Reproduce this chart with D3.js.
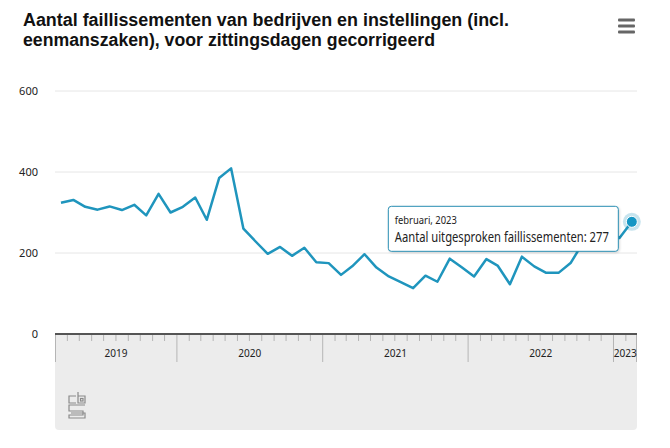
<!DOCTYPE html>
<html>
<head>
<meta charset="utf-8">
<script src="https://cdn.jsdelivr.net/npm/d3@7/dist/d3.min.js"></script>
<style>
  html, body { margin: 0; padding: 0; background: #fff; }
  svg { display: block; font-family: "Noto Sans", "Open Sans", sans-serif; }
</style>
</head>
<body>
<svg id="chart" width="670" height="448"></svg>
<script>
// ---- Data ----
const titleLines = ["Aantal faillissementen van bedrijven en instellingen (incl.", "eenmanszaken), voor zittingsdagen gecorrigeerd"];
const startYear = 2019, startMonth = 2; // March 2019 (0-based month)
const values = [
  324, 331, 314, 307, 315, 306, 319, 293, 346, 300,            // 2019 Mar-Dec
  314, 337, 282, 385, 409, 260, 229, 198, 215, 193, 213, 177,  // 2020
  175, 146, 167, 197, 164, 142, 128, 113, 144, 129, 186, 165,  // 2021
  142, 185, 169, 123, 191, 167, 151, 151, 176, 225, 245, 252,  // 2022
  237, 277                                                     // 2023 Jan-Feb
];
const yTicks = [0, 200, 400, 600];
const monthNames = ["januari","februari","maart","april","mei","juni","juli","augustus","september","oktober","november","december"];
const tooltipLabel = "Aantal uitgesproken faillissementen";

// ---- Layout ----
const svg = d3.select("#chart");
const mLeft = 55, mRight = 637, mTop = 91, mBottom = 334;
const data = values.map((v, i) => {
  const d = new Date(startYear, startMonth + i, 1);
  return { date: d, mid: new Date(d.getFullYear(), d.getMonth(), 16), value: v };
});
const domStart = new Date(startYear, startMonth, 1);
const domEnd = new Date(startYear, startMonth + values.length, 1);
const x = d3.scaleTime().domain([domStart, domEnd]).range([mLeft, mRight]);
const y = d3.scaleLinear().domain([0, 600]).range([mBottom, mTop]);

// Title (fitted to the reference's narrow type)
const titleWidths = [486, 412];
titleLines.forEach((t, i) => svg.append("text")
  .attr("x", 23).attr("y", 26 + i * 20)
  .attr("font-family", "'Liberation Sans', Arial, sans-serif")
  .attr("font-size", 17.5).attr("font-weight", 700).attr("fill", "#111")
  .attr("textLength", titleWidths[i]).attr("lengthAdjust", "spacingAndGlyphs")
  .text(t));

// Menu icon
[20, 26, 32].forEach(yy => svg.append("rect").attr("x", 618).attr("y", yy - 1.5)
  .attr("width", 17).attr("height", 3).attr("rx", 1).attr("fill", "#666"));

// Gridlines and y labels
const yAxis = svg.append("g");
yTicks.forEach(t => {
  if (t > 0) yAxis.append("line").attr("x1", mLeft).attr("x2", mRight)
    .attr("y1", y(t)).attr("y2", y(t)).attr("stroke", "#e6e6e6").attr("stroke-width", 1);
  yAxis.append("text").attr("x", 38).attr("y", y(t)).attr("dy", "0.35em")
    .attr("text-anchor", "end").attr("font-size", 11).attr("fill", "#222").text(t);
});

// X axis band
const bandTop = mBottom + 1, bandBottom = 430;
svg.append("path")
  .attr("d", `M${mLeft},${bandTop} H${mRight} V${bandBottom - 4} Q${mRight},${bandBottom} ${mRight - 4},${bandBottom} H${mLeft + 4} Q${mLeft},${bandBottom} ${mLeft},${bandBottom - 4} Z`)
  .attr("fill", "#ececec");

// Month ticks
const months = d3.timeMonth.range(domStart, domEnd);
svg.append("g").selectAll("line").data(months.slice(1)).join("line")
  .attr("x1", d => x(d)).attr("x2", d => x(d))
  .attr("y1", bandTop).attr("y2", d => d.getMonth() === 0 ? 362 : 341)
  .attr("stroke", "#b5b5b5").attr("stroke-width", 1);
svg.append("line").attr("x1", mLeft + 0.5).attr("x2", mLeft + 0.5).attr("y1", bandTop).attr("y2", 362)
  .attr("stroke", "#b5b5b5");
svg.append("line").attr("x1", mRight - 0.5).attr("x2", mRight - 0.5).attr("y1", bandTop).attr("y2", 362)
  .attr("stroke", "#b5b5b5");

// Year labels, centred in each year's visible span
const years = d3.range(startYear, domEnd.getFullYear() + 1);
years.forEach(yr => {
  const a = Math.max(+domStart, +new Date(yr, 0, 1));
  const b = Math.min(+domEnd, +new Date(yr + 1, 0, 1));
  if (b <= a) return;
  svg.append("text").attr("x", (x(new Date(a)) + x(new Date(b))) / 2).attr("y", 357)
    .attr("text-anchor", "middle").attr("font-size", 11).attr("fill", "#222")
    .attr("textLength", 23).attr("lengthAdjust", "spacingAndGlyphs").text(yr);
});

// Axis line
svg.append("line").attr("x1", mLeft).attr("x2", mRight).attr("y1", mBottom).attr("y2", mBottom)
  .attr("stroke", "#555").attr("stroke-width", 2);

// Line
const lineColor = "#1f95bd";
svg.append("path").datum(data)
  .attr("d", d3.line().x(d => x(d.mid)).y(d => y(d.value)))
  .attr("fill", "none").attr("stroke", lineColor).attr("stroke-width", 2.5)
  .attr("stroke-linejoin", "round");

// Highlighted last point
const last = data[data.length - 1];
const px = x(last.mid), py = y(last.value);
svg.append("circle").attr("cx", px).attr("cy", py).attr("r", 9).attr("fill", "rgba(31,149,189,0.25)");
svg.append("circle").attr("cx", px).attr("cy", py).attr("r", 5.5).attr("fill", "#1596c4")
  .attr("stroke", "#fff").attr("stroke-width", 1);

// Tooltip
const tip = svg.append("g");
const tipBg = tip.append("rect").attr("fill", "#fff").attr("stroke", "#2a8fb3").attr("stroke-width", 1)
  .attr("rx", 3);
const t1w = 62, t2w = 214;
const t1 = tip.append("text").attr("font-size", 11).attr("fill", "#222")
  .attr("textLength", t1w).attr("lengthAdjust", "spacingAndGlyphs")
  .text(`${monthNames[last.date.getMonth()]}, ${last.date.getFullYear()}`);
const t2 = tip.append("text").attr("font-size", 13.5).attr("fill", "#222")
  .attr("textLength", t2w).attr("lengthAdjust", "spacingAndGlyphs")
  .text(`${tooltipLabel}: ${last.value}`);
const tw = Math.max(t1w, t2w) + 16;
const tRight = px - 14, tTop = py - 16;
const tx = tRight - tw;
tipBg.attr("x", tx + 0.5).attr("y", tTop + 0.5).attr("width", tw).attr("height", 45)
  .style("filter", "drop-shadow(1px 1px 1px rgba(0,0,0,0.15))");
t1.attr("x", tx + 7).attr("y", tTop + 18);
t2.attr("x", tx + 7).attr("y", tTop + 36);

// CBS logo (credits)
const logo = svg.append("g").attr("transform", "translate(68,392)")
  .attr("fill", "none").attr("stroke", "#8a8a8a").attr("stroke-width", 1.2);
logo.append("path").attr("d", "M8,4 H1 V11 H8");            // c
logo.append("path").attr("d", "M10,0 V11 H17 V4 H10");       // b
logo.append("rect").attr("x", 12.5).attr("y", 6.5).attr("width", 2.5).attr("height", 2.5);
logo.append("path").attr("d", "M17,13 H1 V19 H15 V23 H1 V26 H17 V21 H3"); // s
</script>
</body>
</html>
